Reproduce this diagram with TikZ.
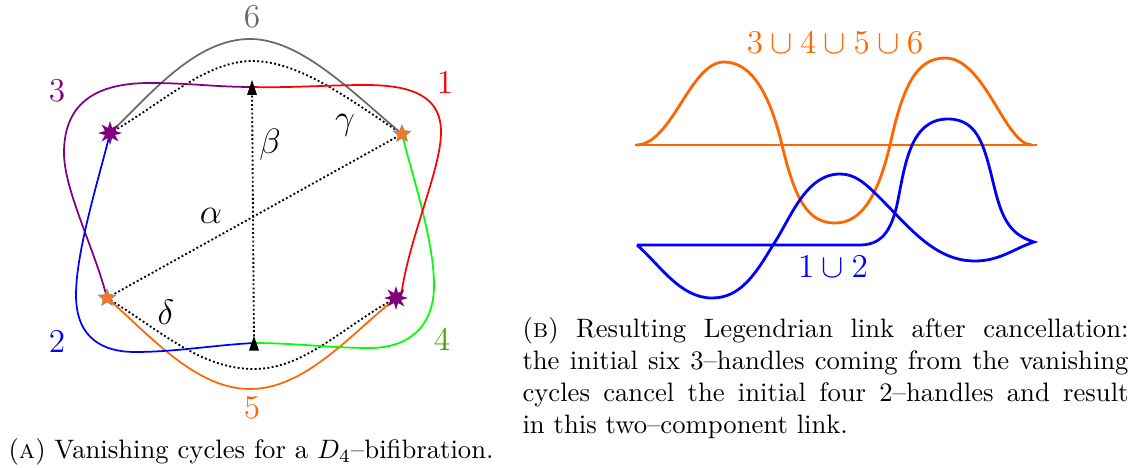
\RequirePackage{fix-cm}
\documentclass[tikz,border=0pt]{standalone}
\usetikzlibrary{shapes.geometric}
\definecolor{cpurple}{RGB}{128,0,128}
\definecolor{corange}{RGB}{255,102,0}
\definecolor{cstar}{RGB}{240,120,40}
\definecolor{cgreen}{RGB}{0,255,0}
\definecolor{cdgreen}{RGB}{76,160,0}
\definecolor{cgray}{RGB}{105,105,105}
\tikzset{
  x=0.375pt,y=-0.375pt,
  cyc/.style={line width=0.65pt},
  dots/.style={line width=0.7pt,dash pattern=on 0.7pt off 0.9pt},
  leg/.style={line width=1.05pt},
  lab/.style={inner sep=0pt,font=\fontsize{12.5}{15}\selectfont},
  greek/.style={inner sep=0pt,font=\fontsize{13.2}{15}\selectfont},
  pstar/.style={star,star points=8,star point ratio=2.2,fill=cpurple,inner sep=0pt,minimum size=9pt},
  ostar/.style={star,star points=5,star point ratio=2.2,fill=cstar,draw=gray,line width=0.1pt,inner sep=0pt,minimum size=7pt},
}
\begin{document}
\begin{tikzpicture}
\useasboundingbox (0,0) rectangle (1135,467);
\coordinate (pl) at (110,133);
\coordinate (or) at (402,134);
\coordinate (ol) at (107,298);
\coordinate (pr) at (396,298);
\coordinate (prr) at (401,297);
\coordinate (tt) at (252,87);
\coordinate (tb) at (254,343);
% dotted
\draw[dots] (tt) -- (tb);
\draw[dots] (ol) -- (or);
\draw[dots] (pl) .. controls (160,105) and (205,61) .. (252,61) .. controls (300,61) and (350,100) .. (or);
\draw[dots] (ol) .. controls (160,330) and (200,369) .. (254,369) .. controls (305,369) and (345,325) .. (pr);
% cycles
\draw[cyc,cgray] (pl) .. controls (150,95) and (195,39) .. (250,39) .. controls (300,39) and (350,90) .. (or);
\draw[cyc,corange] (ol) .. controls (150,335) and (195,389) .. (250,389) .. controls (305,389) and (350,335) .. (pr);
\draw[cyc,cpurple] (tt) .. controls (215,87) and (190,83) .. (150,83) .. controls (100,83) and (64,100) .. (64,153) .. controls (64,190) and (95,250) .. (ol);
\draw[cyc,blue] (pl) .. controls (100,175) and (76,250) .. (76,295) .. controls (76,340) and (105,352) .. (135,352) .. controls (175,352) and (215,345) .. (tb);
\draw[cyc,cgreen] (or) .. controls (412,175) and (434,240) .. (434,285) .. controls (434,330) and (405,348) .. (370,348) .. controls (330,348) and (295,343) .. (tb);
\draw[cyc,red] (tt) .. controls (290,88) and (330,85) .. (365,85) .. controls (410,85) and (441,95) .. (441,132) .. controls (441,170) and (408,240) .. (prr);
% markers
\fill (tt) ++(0,-7) -- ++(5,15) -- ++(-10,0) -- cycle;
\fill (tb) ++(0,-7) -- ++(5,14.5) -- ++(-10,0) -- cycle;
\node[pstar] (npl) at (pl) {};
\node[pstar] (npr) at (pr) {};
\node[ostar] (nor) at (or) {};
\node[ostar] (nol) at (ol) {};
% labels
\node[lab,cgray] (l6) at (252,17) {$6$};
\node[lab,cpurple] (l3) at (57,91) {$3$};
\node[lab,red] (l1) at (445,83) {$1$};
\node[lab,blue] (l2) at (57,342) {$2$};
\node[lab,cdgreen] (l4) at (442,340) {$4$};
\node[lab,corange] (l5) at (252,408) {$5$};
\node[greek] (al) at (211,216) {$\alpha$};
\node[greek] (be) at (270,145) {$\beta$};
\node[greek] (ga) at (345,125) {$\gamma$};
\node[greek] (de) at (166,312) {$\delta$};
% right panel
\draw[leg,corange] (635,145) -- (1037,145);
\draw[leg,corange] (636,145) .. controls (672,145) and (690,62) .. (724,62) .. controls (752,62) and (770,95) .. (782,145) .. controls (795,200) and (808,223) .. (835,223) .. controls (862,223) and (878,195) .. (890,145) .. controls (902,90) and (915,58) .. (945,58) .. controls (985,58) and (1005,145) .. (1032,145);
\draw[leg,blue,line join=miter] (637,245) -- (860,245) .. controls (885,245) and (892,225) .. (897,205) .. controls (905,165) and (910,119) .. (948,119) .. controls (980,119) and (985,150) .. (995,190) .. controls (1003,222) and (1012,235) .. (1034,242) .. controls (1015,248) and (1000,261) .. (975,261) .. controls (935,261) and (910,228) .. (880,198) .. controls (865,183) and (855,174) .. (840,174) .. controls (805,174) and (790,220) .. (773,245) .. controls (755,275) and (740,298) .. (712,298) .. controls (680,298) and (660,265) .. (637,245);
\node[lab,corange] (lu) at (835,43) {$3\cup4\cup5\cup6$};
\node[lab,blue] (ld) at (833,267) {$1\cup2$};
% captions
\node[inner sep=0pt,anchor=base west] (capa) at (8,458) {(\textsc{a}) Vanishing cycles for a $D_4$--bifibration.};
\node[inner sep=0pt,anchor=north west,text width=227.25pt,align=justify] (capb) at (522,316.5) {(\textsc{b}) Resulting Legendrian link after cancellation:\linebreak the initial six 3--handles coming from the vanishing\linebreak cycles cancel the initial four 2--handles and result\linebreak in this two--component link.};
\end{tikzpicture}
\end{document}
